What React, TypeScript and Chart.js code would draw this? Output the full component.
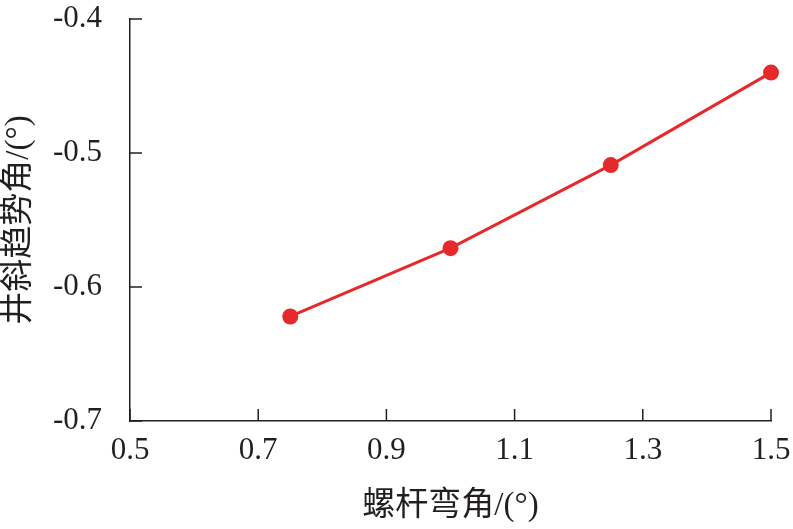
import React, { useEffect, useRef } from "react";
import { Chart, registerables } from "chart.js";

Chart.register(...registerables);

const bendAngles = [0.75, 1.0, 1.25, 1.5];
const trendAngles = [-0.622, -0.571, -0.509, -0.44];
const xTitle = "螺杆弯角/(°)";
const yTitle = "井斜趋势角/(°)";

const FONT = "'Liberation Serif', 'Times New Roman', 'Noto Sans CJK SC', serif";
const INK = "#231f20";
const RED = "#e62a2b";

const innerTicks = {
  id: "innerTicks",
  afterDraw(chart: any) {
    const { ctx, chartArea, scales } = chart;
    const len = 12;
    ctx.save();
    ctx.strokeStyle = INK;
    ctx.lineWidth = 1.5;
    ctx.beginPath();
    scales.x.ticks.forEach((t: any) => {
      const px = scales.x.getPixelForValue(t.value);
      ctx.moveTo(px, chartArea.bottom);
      ctx.lineTo(px, chartArea.bottom - len);
    });
    scales.y.ticks.forEach((t: any) => {
      const py = scales.y.getPixelForValue(t.value);
      ctx.moveTo(chartArea.left, py);
      ctx.lineTo(chartArea.left + len, py);
    });
    ctx.stroke();
    ctx.restore();
  },
};

const zeroPad = (s: any) => {
  s.paddingTop = 0;
  s.paddingBottom = 0;
  s.paddingLeft = 0;
  s.paddingRight = 0;
};

export default function App() {
  const ref = useRef<HTMLCanvasElement>(null);
  useEffect(() => {
    if (!ref.current) return;
    const chart = new Chart(ref.current, {
      type: "line",
      data: {
        datasets: [
          {
            data: bendAngles.map((x, i) => ({ x, y: trendAngles[i] })),
            borderColor: RED,
            backgroundColor: RED,
            borderWidth: 3,
            pointRadius: 8,
            pointBorderWidth: 0,
            pointBackgroundColor: RED,
            tension: 0,
            clip: false,
          },
        ],
      },
      plugins: [innerTicks],
      options: {
        animation: false,
        responsive: false,
        maintainAspectRatio: false,
        layout: { padding: { left: 0, right: 22, top: 19, bottom: 0 } },
        plugins: { legend: { display: false }, tooltip: { enabled: false } },
        scales: {
          x: {
            type: "linear",
            min: 0.5,
            max: 1.5,
            grid: { display: false },
            border: { display: true, color: INK, width: 1.5 },
            ticks: {
              stepSize: 0.2,
              padding: 3,
              color: INK,
              font: { family: FONT, size: 31 },
              callback: (v: any) => Number(v).toFixed(1),
            },
            title: {
              display: true,
              text: xTitle,
              color: INK,
              font: { family: FONT, size: 33 },
              padding: { top: 0, bottom: 3 },
            },
            afterFit: (s: any) => {
              s.height = 108;
              zeroPad(s);
            },
          },
          y: {
            type: "linear",
            min: -0.7,
            max: -0.4,
            grid: { display: false },
            border: { display: true, color: INK, width: 1.5 },
            ticks: {
              stepSize: 0.1,
              padding: 20,
              color: INK,
              font: { family: FONT, size: 31 },
              callback: (v: any) => Number(v).toFixed(1),
            },
            title: {
              display: true,
              text: yTitle,
              color: INK,
              font: { family: FONT, size: 33 },
              padding: { top: 0, bottom: 0 },
            },
            afterFit: (s: any) => {
              s.width = 130;
              zeroPad(s);
            },
          },
        },
      },
    });
    return () => chart.destroy();
  }, []);
  return (
    <div style={{ position: "absolute", left: 0, top: 0, width: 793, height: 529, background: "#fff" }}>
      <canvas ref={ref} width={793} height={529} style={{ width: 793, height: 529 }} />
    </div>
  );
}
